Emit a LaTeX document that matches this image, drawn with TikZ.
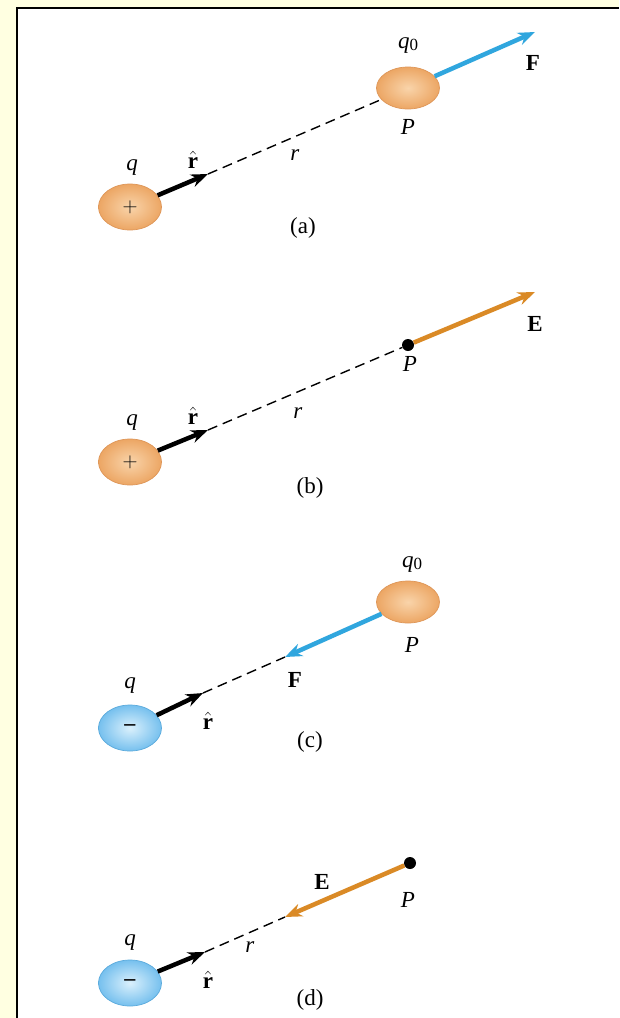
\documentclass[tikz,border=0pt]{standalone}
\usepackage[no-math]{fontspec}
\setmainfont{Liberation Serif}
\usetikzlibrary{arrows.meta,shapes.geometric}
\definecolor{FondoAmarillo}{RGB}{255,255,225}
\definecolor{NaranjaCarga}{RGB}{236,166,100}
\definecolor{NaranjaClaro}{RGB}{249,212,170}
\definecolor{NaranjaBorde}{RGB}{222,150,88}
\definecolor{AzulCarga}{RGB}{118,192,238}
\definecolor{AzulClaro}{RGB}{218,240,252}
\definecolor{AzulBorde}{RGB}{90,170,220}
\definecolor{AzulFuerza}{RGB}{48,166,222}
\definecolor{NaranjaCampo}{RGB}{218,138,38}
\newcommand{\subcero}{\raisebox{-2pt}{\fontsize{17}{17}\selectfont 0}}

\begin{document}
\begin{tikzpicture}[x=1pt,y=-1pt,>={Stealth[length=17pt,width=13pt]},
  carga/.style={ellipse,inner sep=0pt,minimum width=63pt,minimum height=46pt,line width=0.7pt,
    font=\fontsize{22}{22}\selectfont},
  positiva/.style={carga,draw=NaranjaBorde,inner color=NaranjaClaro,outer color=NaranjaCarga},
  negativa/.style={carga,draw=AzulBorde,inner color=AzulClaro,outer color=AzulCarga},
  punto/.style={circle,fill=black,inner sep=0pt,minimum size=12pt},
  etiqueta/.style={inner sep=0pt,font=\fontsize{23}{26}\selectfont},
  unitario/.style={->,line width=4.5pt},
  radio/.style={dash pattern=on 10pt off 6pt,line width=1.4pt},
  fuerza/.style={->,line width=4.5pt,AzulFuerza},
  campo/.style={->,line width=4.5pt,NaranjaCampo}]
  \useasboundingbox (0,0) rectangle (619,1018);
  \fill[FondoAmarillo] (0,0) rectangle (619,1018);
  \fill[white] (17,8) rectangle (619,1018);
  \draw[line width=2pt] (17,1018) -- (17,8) -- (619,8);

  % (a)
  \begin{scope}
    \node[positiva] (qA) at (130,207) {$+$};
    \node[positiva,minimum height=42pt] (PA) at (408,88) {};
    \coordinate (uA) at (208,174);
    \coordinate (FA) at (535,32);
    \draw[unitario] (qA) -- (uA);
    \draw[radio] (uA) -- (PA);
    \draw[fuerza] (PA) -- (FA);
    \node[etiqueta] (lqA) at (132,168) {\textit{q}};
    \node[etiqueta] (luA) at (193,160) {$\hat{\textbf{r}}$};
    \node[etiqueta] (lrA) at (295,155) {\textit{r}};
    \node[etiqueta] (lq0A) at (408,46) {\textit{q}\subcero};
    \node[etiqueta] (lPA) at (408,127) {\textit{P}};
    \node[etiqueta] (lFA) at (533,63) {\textbf{F}};
    \node[etiqueta] (capA) at (303,228) {(a)};
  \end{scope}

  % (b)
  \begin{scope}
    \node[positiva] (qB) at (130,462) {$+$};
    \node[punto] (PB) at (408,345) {};
    \coordinate (uB) at (208,430);
    \coordinate (EB) at (535,292);
    \draw[unitario] (qB) -- (uB);
    \draw[radio] (uB) -- (PB);
    \draw[campo] (PB) -- (EB);
    \node[etiqueta] (lqB) at (132,423) {\textit{q}};
    \node[etiqueta] (luB) at (193,416) {$\hat{\textbf{r}}$};
    \node[etiqueta] (lrB) at (298,413) {\textit{r}};
    \node[etiqueta] (lPB) at (410,364) {\textit{P}};
    \node[etiqueta] (lEB) at (535,324) {\textbf{E}};
    \node[etiqueta] (capB) at (310,488) {(b)};
  \end{scope}

  % (c)
  \begin{scope}
    \node[negativa] (qC) at (130,728) {\textbf{\textendash}};
    \node[positiva,minimum height=42pt] (PC) at (408,602) {};
    \coordinate (uC) at (203,693);
    \coordinate (FC) at (285,657);
    \draw[unitario] (qC) -- (uC);
    \draw[radio] (uC) -- (FC);
    \draw[fuerza] (PC) -- (FC);
    \node[etiqueta] (lqC) at (130,686) {\textit{q}};
    \node[etiqueta] (luC) at (208,721) {$\hat{\textbf{r}}$};
    \node[etiqueta] (lq0C) at (412,565) {\textit{q}\subcero};
    \node[etiqueta] (lPC) at (412,645) {\textit{P}};
    \node[etiqueta] (lFC) at (295,680) {\textbf{F}};
    \node[etiqueta] (capC) at (310,742) {(c)};
  \end{scope}

  % (d)
  \begin{scope}
    \node[negativa] (qD) at (130,983) {\textbf{\textendash}};
    \node[punto] (PD) at (410,863) {};
    \coordinate (uD) at (205,952);
    \coordinate (ED) at (285,917);
    \draw[unitario] (qD) -- (uD);
    \draw[radio] (uD) -- (ED);
    \draw[campo] (PD) -- (ED);
    \node[etiqueta] (lqD) at (130,943) {\textit{q}};
    \node[etiqueta] (luD) at (208,980) {$\hat{\textbf{r}}$};
    \node[etiqueta] (lrD) at (250,947) {\textit{r}};
    \node[etiqueta] (lPD) at (408,900) {\textit{P}};
    \node[etiqueta] (lED) at (322,882) {\textbf{E}};
    \node[etiqueta] (capD) at (310,1000) {(d)};
  \end{scope}
\end{tikzpicture}
\end{document}
